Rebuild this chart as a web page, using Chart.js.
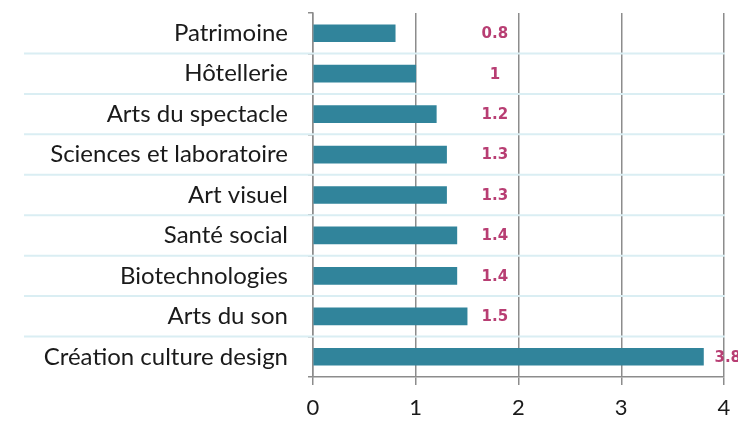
<!DOCTYPE html>
<html>
<head>
<meta charset="utf-8">
<script src="https://cdn.jsdelivr.net/npm/chart.js@4.4.1/dist/chart.umd.min.js"></script>
<style>
html,body{margin:0;padding:0;background:#fff;}
#wrap{width:738px;height:422px;position:relative;}
</style>
</head>
<body>
<div id="wrap"><canvas id="c" width="738" height="422"></canvas></div>
<script>
const categories = ["Patrimoine","Hôtellerie","Arts du spectacle","Sciences et laboratoire","Art visuel","Santé social","Biotechnologies","Arts du son","Création culture design"];
const values = [0.8, 1, 1.2, 1.3, 1.3, 1.4, 1.4, 1.5, 3.8];
const valueLabels = ["0.8","1","1.2","1.3","1.3","1.4","1.4","1.5","3.8"];
const xTicks = [0, 1, 2, 3, 4];

const separators = {
  id: 'separators',
  beforeDatasetsDraw(chart) {
    const ctx = chart.ctx, y = chart.scales.y, area = chart.chartArea;
    ctx.save();
    ctx.strokeStyle = '#DAEEF3';
    ctx.lineWidth = 2;
    for (let i = 0; i < categories.length - 1; i++) {
      const yy = (y.getPixelForValue(i) + y.getPixelForValue(i + 1)) / 2;
      ctx.beginPath();
      ctx.moveTo(24, yy);
      ctx.lineTo(area.right + 1, yy);
      ctx.stroke();
    }
    ctx.restore();
  }
};

const valueLabelPlugin = {
  id: 'valueLabels',
  afterDatasetsDraw(chart) {
    const ctx = chart.ctx, meta = chart.getDatasetMeta(0), x = chart.scales.x;
    ctx.save();
    ctx.font = 'bold 15px "DejaVu Sans"';
    ctx.fillStyle = '#B83E73';
    ctx.textAlign = 'center';
    ctx.textBaseline = 'middle';
    const baseCenter = x.getPixelForValue(1.77);
    meta.data.forEach((bar, i) => {
      const w = ctx.measureText(valueLabels[i]).width;
      const cx = Math.max(baseCenter, bar.x + 11 + w / 2);
      ctx.fillText(valueLabels[i], cx, bar.y + 1);
    });
    ctx.restore();
  }
};

new Chart(document.getElementById('c'), {
  type: 'bar',
  data: {
    labels: categories,
    datasets: [{
      data: values,
      backgroundColor: '#31849B',
      borderWidth: 0,
      barThickness: 17
    }]
  },
  options: {
    indexAxis: 'y',
    responsive: false,
    animation: false,
    layout: { padding: { top: 13, right: 14, left: 0, bottom: 0 } },
    plugins: { legend: { display: false }, tooltip: { enabled: false } },
    scales: {
      x: {
        min: 0, max: 4,
        afterBuildTicks(scale) { scale.ticks = xTicks.map(v => ({ value: v })); },
        afterFit(scale) { scale.height = 45; scale.paddingLeft = 0; scale.paddingRight = 0; },
        grid: { color: '#8C8C8C', lineWidth: 1.5, tickLength: 8, drawTicks: true },
        border: { display: true, color: '#8C8C8C', width: 1.5 },
        ticks: { font: { family: 'Lato', size: 22 }, color: '#1A1A1A', padding: 10 }
      },
      y: {
        afterFit(scale) { scale.width = 313; scale.paddingTop = 0; scale.paddingBottom = 0; },
        grid: { offset: true, drawOnChartArea: false, color: '#8C8C8C', lineWidth: 1.5, tickLength: 5 },
        border: { display: true, color: '#8C8C8C', width: 1.5 },
        ticks: { font: { family: 'Lato', size: 24 }, color: '#1A1A1A', padding: 20 }
      }
    }
  },
  plugins: [separators, valueLabelPlugin]
});
</script>
</body>
</html>
